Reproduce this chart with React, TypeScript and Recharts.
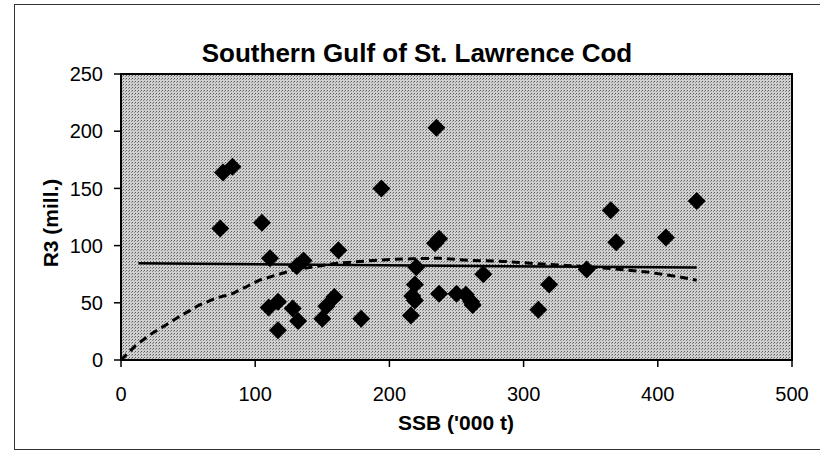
import {
  ScatterChart,
  Scatter,
  XAxis,
  YAxis,
  ReferenceArea,
} from 'recharts';

// observed stock-recruit points
const ssb = [74, 76, 83, 105, 111, 110, 117, 117, 128, 132, 131, 136, 150, 153, 159, 162, 179, 194, 216, 217, 219, 219, 220, 235, 234, 237, 237, 250, 257, 261, 262, 270, 311, 319, 347, 365, 369, 406, 429];
const r3 = [115, 164, 169, 120, 89, 46, 51, 26, 45, 34, 82, 87, 36, 47, 55, 96, 36, 150, 39, 56, 66, 52, 81, 203, 102, 106, 58, 58, 57, 51, 48, 75, 44, 66, 79, 131, 103, 107, 139];

// fitted lines
const flatX = [13, 429];
const flatY = [84.5, 80.8];
const curveX = [0, 11, 21, 43, 58, 71, 83, 93, 103, 115, 128, 158, 178, 203, 217, 237, 260, 285, 310, 332, 367, 392, 416, 429];
const curveY = [0, 12.8, 21.6, 37.6, 47.8, 54.2, 58, 63.8, 69.7, 74, 78.4, 84.2, 86.2, 88, 88.5, 89, 87.1, 86.2, 84.2, 82.7, 79.8, 76.9, 72.6, 69.7];

const xTicks = [0, 100, 200, 300, 400, 500];
const yTicks = [0, 50, 100, 150, 200, 250];

const points = ssb.map((x, i) => ({ x, y: r3[i] }));
const flatLine = flatX.map((x, i) => ({ x, y: flatY[i] }));
const curveLine = curveX.map((x, i) => ({ x, y: curveY[i] }));

const font = "'Liberation Sans', Arial, sans-serif";

const Diamond = (props: any) => {
  const { cx, cy } = props;
  const r = 9;
  return <path d={`M${cx},${cy - r}L${cx + r},${cy}L${cx},${cy + r}L${cx - r},${cy}Z`} fill="#000" />;
};

const NoDot = () => <g />;

export default function App() {
  return (
    <div style={{ position: 'fixed', left: 0, top: 0, width: 820, height: 457, background: '#fff', fontFamily: font }}>
      <div
        style={{
          position: 'absolute',
          left: 14,
          top: 4,
          width: 806,
          height: 446,
          borderLeft: '1.5px solid #333',
          borderTop: '1.5px solid #333',
          borderBottom: '1.5px solid #333',
          boxSizing: 'border-box',
        }}
      />
      <ScatterChart
        width={820}
        height={457}
        margin={{ top: 74, right: 28, left: 21, bottom: 17 }}
        style={{ position: 'absolute', left: 0, top: 0 }}
      >
        <defs>
          <pattern id="stipple" width="3" height="3" patternUnits="userSpaceOnUse">
            <rect width="3" height="3" fill="#d0d0d0" />
            <rect x="0" y="0" width="1" height="1" fill="#5a5a5a" />
            <rect x="2" y="1" width="1" height="1" fill="#8a8a8a" />
          </pattern>
        </defs>
        <XAxis
          type="number"
          dataKey="x"
          domain={[0, 500]}
          ticks={xTicks}
          height={80}
          tickSize={7}
          tickMargin={20}
          axisLine={{ stroke: '#000', strokeWidth: 2 }}
          tickLine={{ stroke: '#000', strokeWidth: 1.5 }}
          tick={{ fill: '#000', fontSize: 20, fontFamily: font }}
        />
        <YAxis
          type="number"
          dataKey="y"
          domain={[0, 250]}
          ticks={yTicks}
          width={100}
          tickSize={7}
          tickMargin={11}
          axisLine={{ stroke: '#000', strokeWidth: 2 }}
          tickLine={{ stroke: '#000', strokeWidth: 1.5 }}
          tick={{ fill: '#000', fontSize: 20, fontFamily: font }}
        />
        <ReferenceArea
          x1={0}
          x2={500}
          y1={0}
          y2={250}
          fill="url(#stipple)"
          fillOpacity={1}
          stroke="#000"
          strokeWidth={2}
        />
        <Scatter
          data={curveLine}
          line={{ stroke: '#000', strokeWidth: 3, strokeDasharray: '8 5' }}
          shape={NoDot}
          isAnimationActive={false}
        />
        <Scatter
          data={flatLine}
          line={{ stroke: '#000', strokeWidth: 2.5 }}
          shape={NoDot}
          isAnimationActive={false}
        />
        <Scatter data={points} shape={Diamond} isAnimationActive={false} />
      </ScatterChart>
      <div
        style={{
          position: 'absolute',
          left: 417,
          top: 40,
          transform: 'translateX(-50%)',
          fontSize: 26,
          lineHeight: '26px',
          fontWeight: 'bold',
          whiteSpace: 'nowrap',
        }}
      >
        Southern Gulf of St. Lawrence Cod
      </div>
      <div
        style={{
          position: 'absolute',
          left: 456,
          top: 412,
          transform: 'translateX(-50%)',
          fontSize: 21,
          lineHeight: '21px',
          fontWeight: 'bold',
          whiteSpace: 'nowrap',
        }}
      >
        SSB ('000 t)
      </div>
      <div
        style={{
          position: 'absolute',
          left: 50,
          top: 223,
          transform: 'translate(-50%, -50%) rotate(-90deg)',
          fontSize: 21,
          lineHeight: '21px',
          fontWeight: 'bold',
          whiteSpace: 'nowrap',
        }}
      >
        R3 (mill.)
      </div>
    </div>
  );
}
